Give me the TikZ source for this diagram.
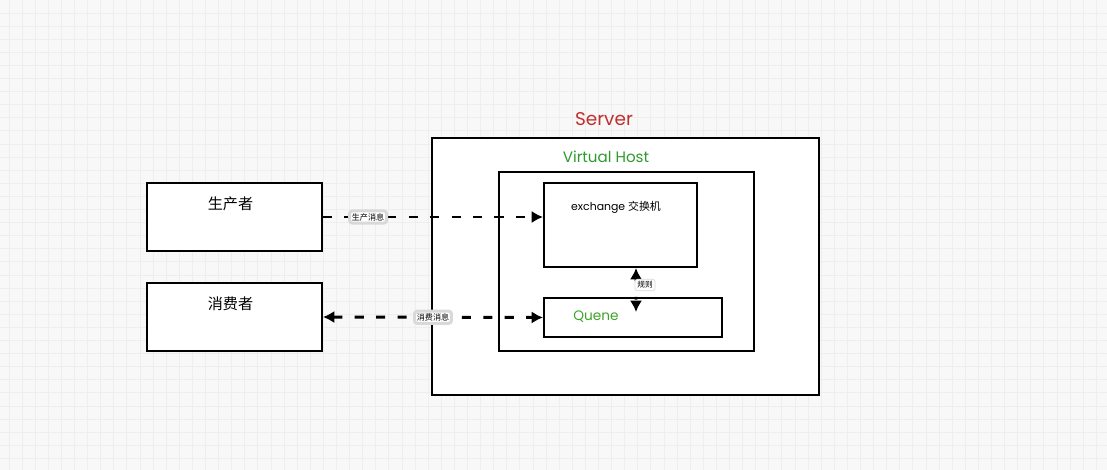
\documentclass[tikz,border=0pt]{standalone}
\usepackage{fontspec}
\setmainfont{Poppins}
\newfontfamily\cjk{Noto Sans CJK SC}
\usepackage{xcolor}
\usepackage{tikz}
\usetikzlibrary{arrows.meta,calc}
\definecolor{bgcol}{HTML}{F8F8F8}
\definecolor{gridcol}{HTML}{EEEEEE}
\definecolor{srvred}{HTML}{C0302E}
\definecolor{vhgreen}{HTML}{2E9A2E}
\tikzset{box/.style={draw, line width=1.1pt, fill=white, inner sep=0pt},
         gridline/.style={draw=gridcol, line width=0.5pt},
         msg/.style={line width=1.7pt, dash pattern=on 5.2pt off 7pt,
         arrows={-Latex[length=6.5pt,width=7pt]}},
         bothtips/.style={arrows={Latex[length=6.5pt,width=7pt]-Latex[length=6.5pt,width=7pt]}},
         elabel/.style={draw=gray!30, fill=white, rounded corners=1.5pt,
         inner sep=1.3pt, solid, font=\cjk\fontsize{4.6}{5}\selectfont}}

\begin{document}
\begin{tikzpicture}[x=0.02cm, y=-0.02cm]
\useasboundingbox[fill=bgcol] (0,0) rectangle (1107,470);
\foreach \i in {0,...,84} \draw[gridline] ({9+13.1*\i},0) -- ++(0,470);
\foreach \i in {0,...,35} \draw[gridline] (0,{13+13.1*\i}) -- ++(1107,0);

\node[box, minimum width=3.5cm, minimum height=1.36cm] (prod) at (234.5,217) {};
\node[box, minimum width=3.5cm, minimum height=1.36cm] (cons) at (234.5,317) {};
\node[font=\cjk\fontsize{8.6}{10}\selectfont] (prodtxt) at (230.5,204) {生产者};
\node[font=\cjk\fontsize{8.6}{10}\selectfont] (constxt) at (230.5,304) {消费者};

\node[box, minimum width=7.74cm, minimum height=5.14cm] (server) at (625.5,266.5) {};
\node[text=srvred, font=\fontsize{10.5}{12}\selectfont] (srvtxt) at (604,119) {Server};
\node[box, minimum width=5.1cm, minimum height=3.58cm] (vhost) at (626.5,261.5) {};
\node[text=vhgreen, font=\fontsize{8.6}{10}\selectfont] (vhtxt) at (606,157) {Virtual Host};

\node[box, minimum width=3.06cm, minimum height=1.68cm] (exch) at (620.5,225) {};
\node[font=\fontsize{6.2}{8}\selectfont] (exchtxt) at (616,207) {exchange {\cjk 交换机}};
\node[box, minimum width=3.56cm, minimum height=0.78cm] (quene) at (633,317.5) {};
\node[text=vhgreen!90!lime, font=\fontsize{7.8}{9}\selectfont] (quenetxt) at (596,317) {Quene};

\draw[msg] (prod.east) -- node[elabel, pos=0.205] (prodmsg) {生产消息} (prod.east -| exch.west);
\draw[msg, bothtips] (cons.east) -- node[elabel, pos=0.5] (consmsg) {消费消息} (quene.west);
\draw[msg, bothtips, dash pattern=on 1.6pt off 9pt] ($(exch.south)+(15.5,0)$) -- ($(quene.north)+(3,15)$);
\node[elabel, font=\cjk\fontsize{4.4}{5}\selectfont] (rule) at (645,285) {规则};
\end{tikzpicture}
\end{document}
